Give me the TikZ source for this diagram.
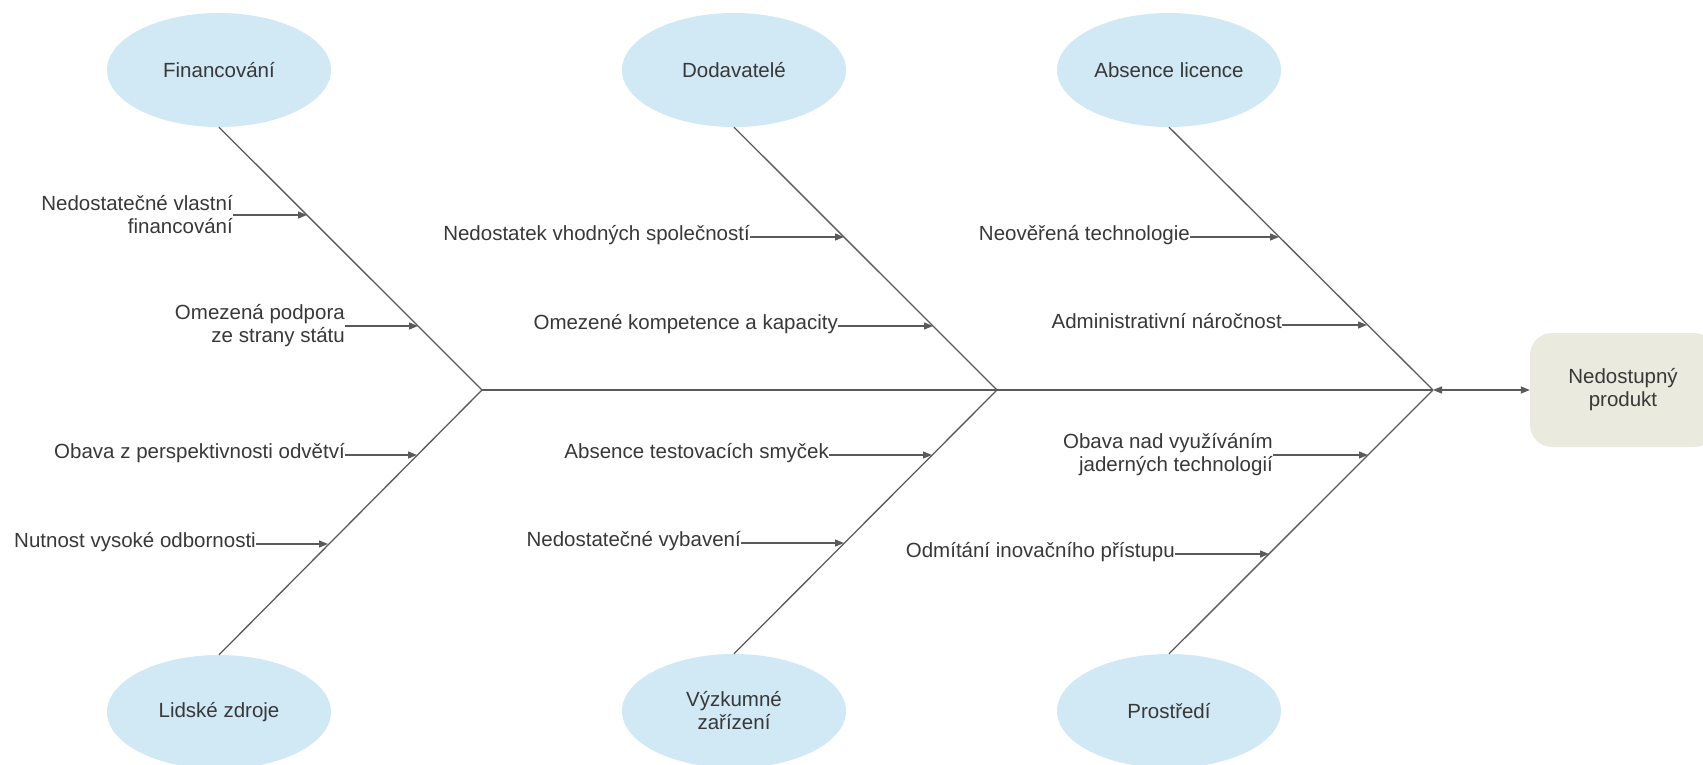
\documentclass[tikz,border=0pt]{standalone}
\usepackage{fontspec}
\setmainfont{Liberation Sans}
\usetikzlibrary{arrows.meta,shapes.geometric}
\definecolor{linec}{HTML}{5A5A5A}
\definecolor{textc}{HTML}{383838}
\definecolor{ellc}{HTML}{D1E8F5}
\definecolor{boxc}{HTML}{EAEADE}
\begin{document}
\begin{tikzpicture}[x=1pt,y=-1pt,
  every node/.style={font=\fontsize{20.5}{23}\selectfont, text=textc},
  cat/.style={shape=ellipse, fill=ellc, minimum width=224pt, minimum height=114pt, inner sep=0pt, align=center},
  prod/.style={rectangle, rounded corners=22pt, fill=boxc, minimum width=186pt, minimum height=114pt, inner sep=0pt, align=center},
  cause/.style={anchor=east, inner sep=0pt, align=right, text height=0.9em, text depth=0.25em},
  cause2/.style={anchor=east, inner sep=0pt, align=right},
  bone/.style={draw=linec, line width=1.3pt},
  sub/.style={draw=linec, line width=1.3pt, -{Triangle[length=9pt,width=7pt]}}
]
\useasboundingbox (0,0) rectangle (1703,765);
\clip (0,0) rectangle (1703,765);

% category nodes
\node[cat] (fin) at (219,70) {Financování};
\node[cat] (dod) at (734,70) {Dodavatelé};
\node[cat] (abs) at (1169,70) {Absence licence};
\node[cat] (lid) at (219,712) {Lidské zdroje};
\node[cat] (vyz) at (734,711) {Výzkumné\\zařízení};
\node[cat] (pro) at (1169,711) {Prostředí};

% product
\node[prod] (prd) at (1623,390) {Nedostupný\\produkt};

% junctions
\coordinate (j1) at (482,390);
\coordinate (j2) at (997,390);
\coordinate (j3) at (1433,390);

% bones
\draw[bone] (fin.south) -- (j1);
\draw[bone] (lid.north) -- (j1);
\draw[bone] (dod.south) -- (j2);
\draw[bone] (vyz.north) -- (j2);
\draw[bone] (abs.south) -- (j3);
\draw[bone] (pro.north) -- (j3);
\draw[bone] (j1) -- (j3);
\draw[bone, {Triangle[length=9pt,width=7pt]}-{Triangle[length=9pt,width=7pt]}] (j3) -- (prd.west);

% causes
\node[cause2] (c1) at (233,215) {Nedostatečné vlastní\\financování};
\coordinate (p1) at (307,215);
\node[cause2] (c2) at (345,326) {Omezená podpora\\ze strany státu};
\coordinate (p2) at (418,326);
\node[cause] (c3) at (345,455) {Obava z perspektivnosti odvětví};
\coordinate (p3) at (417,455);
\node[cause] (c4) at (256,544) {Nutnost vysoké odbornosti};
\coordinate (p4) at (328,544);

\node[cause] (c5) at (750,237) {Nedostatek vhodných společností};
\coordinate (p5) at (844,237);
\node[cause] (c6) at (838,326) {Omezené kompetence a kapacity};
\coordinate (p6) at (933,326);
\node[cause] (c7) at (829,455) {Absence testovacích smyček};
\coordinate (p7) at (932,455);
\node[cause] (c8) at (741,543) {Nedostatečné vybavení};
\coordinate (p8) at (844,543);

\node[cause] (c9) at (1190,237) {Neověřená technologie};
\coordinate (p9) at (1279,237);
\node[cause] (c10) at (1282,325) {Administrativní náročnost};
\coordinate (p10) at (1367,325);
\node[cause2] (c11) at (1273,455) {Obava nad využíváním\\jaderných technologií};
\coordinate (p11) at (1368,455);
\node[cause] (c12) at (1175,554) {Odmítání inovačního přístupu};
\coordinate (p12) at (1269,554);

\foreach \i in {1,...,12} {
  \draw[sub] (c\i.east) -- (p\i);
}
\end{tikzpicture}
\end{document}
